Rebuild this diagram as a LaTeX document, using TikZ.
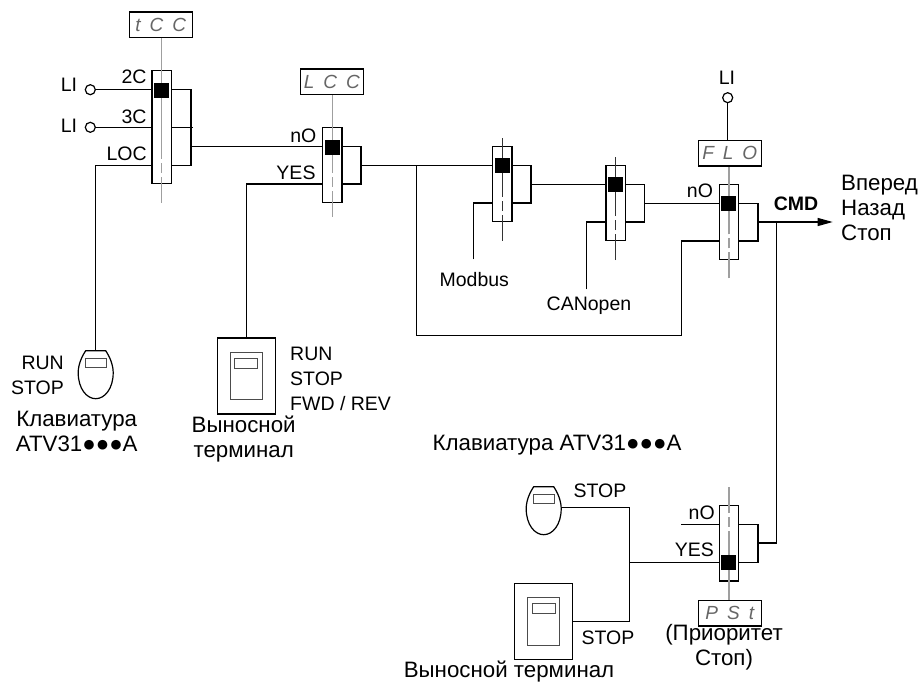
\documentclass[tikz,border=0pt]{standalone}
\usepackage{fontspec}
\setmainfont{Liberation Sans}
\usetikzlibrary{arrows.meta}
\newcommand{\segtext}[3]{#1\hspace{9pt}#2\hspace{9pt}#3}
\tikzset{
  wire/.style={line width=1.2pt,black},
  axisline/.style={line width=1.2pt,gray!75,dash pattern=on 26pt off 4pt on 10pt off 4pt on 200pt},
  thinaxis/.style={line width=1pt,black!80,dash pattern=on 26pt off 4pt on 10pt off 4pt on 200pt},
  switchbox/.style={draw,line width=1.2pt,fill=white,minimum width=19.5pt,inner sep=0pt},
  slider/.style={fill=black,minimum size=15pt,inner sep=0pt},
  display/.style={draw,line width=1.2pt,fill=white,minimum width=63pt,minimum height=25.5pt,inner sep=0pt,
    text=black!60,font=\fontsize{19}{19}\selectfont\itshape},
  licircle/.style={circle,draw,line width=1.2pt,fill=white,minimum size=10pt,inner sep=0pt},
  lbl/.style={inner sep=0pt,font=\fontsize{19.5}{25}\selectfont},
  cyr/.style={inner sep=0pt,font=\fontsize{22.3}{25}\selectfont},
  screen/.style={draw=black!70,line width=1.1pt,inner sep=0pt},
  keypad/.pic={
    \draw[wire] (-10,0) -- (10,0) .. controls (14,6) and (17.5,14) .. (17.5,22)
      .. controls (17.5,38) and (9,48) .. (0,48) .. controls (-9,48) and (-17.5,38) .. (-17.5,22)
      .. controls (-17.5,14) and (-14,6) .. cycle;
    \node[screen,minimum width=21pt,minimum height=9pt] (-screen) at (0.5,12.5) {};
    \coordinate (-top) at (0,0);
    \coordinate (-east) at (17.5,21);
  },
  terminal/.pic={
    \node[draw,line width=1.2pt,minimum width=58pt,minimum height=76pt,inner sep=0pt] (-box) at (0,0) {};
    \node[screen,minimum width=32pt,minimum height=47.5pt] (-panel) at (0,0) {};
    \node[screen,minimum width=23pt,minimum height=10pt] (-screen) at (0,-12.5) {};
  },
}
\begin{document}
\begin{tikzpicture}[x=1pt,y=-1pt]
\useasboundingbox (0,0) rectangle (922,683);

% Selector boxes
\foreach \name/\cx/\cy/\boxh in {A/161.7/127.2/113,B/332.3/165/75.4,C/502.3/184.2/75,D/615.7/203.2/75,E/729/221.8/75,F/729/543.3/75.3}
  \node[switchbox,minimum height=\boxh pt] (sw\name) at (\cx,\cy) {};

% Parameter displays
\node[display] (tcc) at (160.7,24.8) {\segtext{t}{C}{C}};
\node[display] (lcc) at (331.8,81.8) {\segtext{L}{C}{C}};
\node[display] (flo) at (729.8,153.2) {\segtext{F}{L}{O}};
\node[display] (pst) at (729.8,613.3) {\segtext{P}{S}{t}};

% Centre lines
\coordinate (axisA) at (161.7,202.7);
\coordinate (axisB) at (332.3,216.7);
\coordinate (axisC) at (502.3,240.7);
\coordinate (axisCtop) at (502.3,138.3);
\coordinate (axisD) at (615.7,260);
\coordinate (axisDtop) at (615.7,157.3);
\coordinate (axisE) at (729,278.3);
\coordinate (axisF) at (729,487.3);
\draw[axisline] (axisA) -- (axisA |- tcc.south);
\draw[axisline] (axisB) -- (axisB |- lcc.south);
\draw[thinaxis] (axisC) -- (axisCtop);
\draw[thinaxis] (axisD) -- (axisDtop);
\draw[axisline] (axisE) -- (axisE |- flo.south);
\draw[axisline] (axisF) -- (axisF |- pst.north);

% Sliders
\node[slider] (slA) at (161.7,90.5) {};
\node[slider] (slB) at (332.5,147.5) {};
\node[slider] (slC) at (502.5,165.5) {};
\node[slider] (slD) at (615.5,184.5) {};
\node[slider] (slE) at (728.5,203.5) {};
\node[slider] (slF) at (728.5,562.5) {};

% Inputs of the first selector
\node[licircle] (liA) at (90.3,89.7) {};
\node[licircle] (liB) at (90.3,127.3) {};
\coordinate (locA) at (95.7,165.3);
\coordinate (busAtop) at (191,89.7);
\coordinate (busAbot) at (191,165.3);
\coordinate (busAmid) at (191,146.3);
\coordinate (stubA) at (192.7,127.3);
\pic (padA) at (95.7,350.7) {keypad};
\draw[wire] (liA) -- (liA -| swA.west);
\draw[wire] (liB) -- (liB -| swA.west);
\draw[wire] (swA.east |- stubA) -- (stubA);
\draw[wire] (padA-top) -- (locA) -- (locA -| swA.west);
\draw[wire] (swA.east |- busAtop) -- (busAtop) -- (busAbot) -- (swA.east |- busAbot);
\draw[wire] (busAmid) -- (busAmid -| swB.west);

% Second selector
\coordinate (busBtop) at (361,146.3);
\coordinate (busBbot) at (361,184);
\coordinate (busBmid) at (361,165.5);
\coordinate (tap) at (416.7,165.5);
\pic (termA) at (246.3,376) {terminal};
\draw[wire] (termA-box.north) -- (termA-box.north |- busBbot) -- (swB.west |- busBbot);
\draw[wire] (swB.east |- busBtop) -- (busBtop) -- (busBbot) -- (swB.east |- busBbot);
\draw[wire] (busBmid) -- (busBmid -| swC.west);

% Modbus and CANopen selectors
\coordinate (busCtop) at (531,165.5);
\coordinate (busCbot) at (531,203);
\coordinate (busCmid) at (531,184.3);
\coordinate (modbusEnd) at (473.7,259.3);
\coordinate (busDtop) at (644.7,184.3);
\coordinate (busDbot) at (644.7,222);
\coordinate (busDmid) at (644.7,203.3);
\coordinate (canEnd) at (586.7,289.3);
\draw[wire] (swC.east |- busCtop) -- (busCtop) -- (busCbot) -- (swC.east |- busCbot);
\draw[wire] (modbusEnd) -- (modbusEnd |- busCbot) -- (swC.west |- busCbot);
\draw[wire] (busCmid) -- (busCmid -| swD.west);
\draw[wire] (swD.east |- busDtop) -- (busDtop) -- (busDbot) -- (swD.east |- busDbot);
\draw[wire] (canEnd) -- (canEnd |- busDbot) -- (swD.west |- busDbot);
\draw[wire] (busDmid) -- (busDmid -| swE.west);

% Forced local selector and output
\coordinate (busEtop) at (758,203.3);
\coordinate (busEbot) at (758,241);
\coordinate (busEmid) at (758,222);
\coordinate (cmdEnd) at (832.7,222);
\coordinate (tapEnd) at (681.7,335.7);
\node[licircle] (liC) at (727.7,97.7) {};
\draw[wire] (liC) -- (liC |- flo.north);
\draw[wire] (swE.east |- busEtop) -- (busEtop) -- (busEbot) -- (swE.east |- busEbot);
\draw[wire,-{Triangle[length=15pt,width=8pt]}] (busEmid) -- (cmdEnd);
\draw[wire] (tap) -- (tap |- tapEnd) -- (tapEnd) -- (tapEnd |- busEbot) -- (swE.west |- busEbot);

% Stop priority selector
\coordinate (busFtop) at (758,524.7);
\coordinate (busFbot) at (758,562.3);
\coordinate (busFmid) at (758,543);
\coordinate (outF) at (776.7,543);
\coordinate (stubF) at (681,524.7);
\coordinate (joinF) at (629.3,562.3);
\pic (padB) at (543.7,486.7) {keypad};
\pic (termB) at (543.7,621.3) {terminal};
\draw[wire] (swF.east |- busFtop) -- (busFtop) -- (busFbot) -- (swF.east |- busFbot);
\draw[wire] (stubF) -- (stubF -| swF.west);
\draw[wire] (busFmid) -- (outF) -- (outF |- busEmid);
\draw[wire] (padB-east) -- (padB-east -| joinF) -- (joinF |- termB-box.east) -- (termB-box.east);
\draw[wire] (joinF) -- (joinF -| swF.west);

% Labels
\node[lbl] (lblLiA) at (69,85) {LI};
\node[lbl] (lblLiB) at (69,126) {LI};
\node[lbl] (lbl2c) at (134,77) {2C};
\node[lbl] (lbl3c) at (134,116.5) {3C};
\node[lbl] (lblLoc) at (126.7,153.3) {LOC};
\node[lbl] (lblNoB) at (303.3,136) {nO};
\node[lbl] (lblYesB) at (296,172.7) {YES};
\node[lbl] (lblModbus) at (474.3,280) {Modbus};
\node[lbl] (lblCan) at (589,306) {CANopen};
\node[lbl] (lblLiC) at (727,77.3) {LI};
\node[lbl] (lblNoE) at (700,190.7) {nO};
\node[lbl,font=\fontsize{19.5}{19.5}\selectfont\bfseries] (lblCmd) at (796,203.7) {CMD};
\node[cyr,align=left,anchor=west] (lblDir) at (841,208.3) {Вперед\\Назад\\Стоп};
\node[lbl,align=right,anchor=east] (lblRunA) at (64,375.3) {RUN\\STOP};
\node[cyr,align=center] (lblPadA) at (76.7,431) {Клавиатура\\ATV31●●●A};
\node[cyr,align=center] (lblTermA) at (243.7,439) {Выносной\\терминал};
\node[lbl,align=left,anchor=west] (lblRunB) at (290,379) {RUN\\STOP\\FWD / REV};
\node[cyr] (lblPadB) at (557,445.5) {Клавиатура ATV31●●●A};
\node[lbl] (lblStopA) at (600,490.7) {STOP};
\node[lbl] (lblStopB) at (608,637.3) {STOP};
\node[lbl] (lblNoF) at (701.7,512.3) {nO};
\node[lbl] (lblYesF) at (694.3,550) {YES};
\node[cyr,align=center] (lblPrio) at (724,647) {(Приоритет\\Стоп)};
\node[cyr] (lblTermB) at (509,671.7) {Выносной терминал};
\end{tikzpicture}
\end{document}
